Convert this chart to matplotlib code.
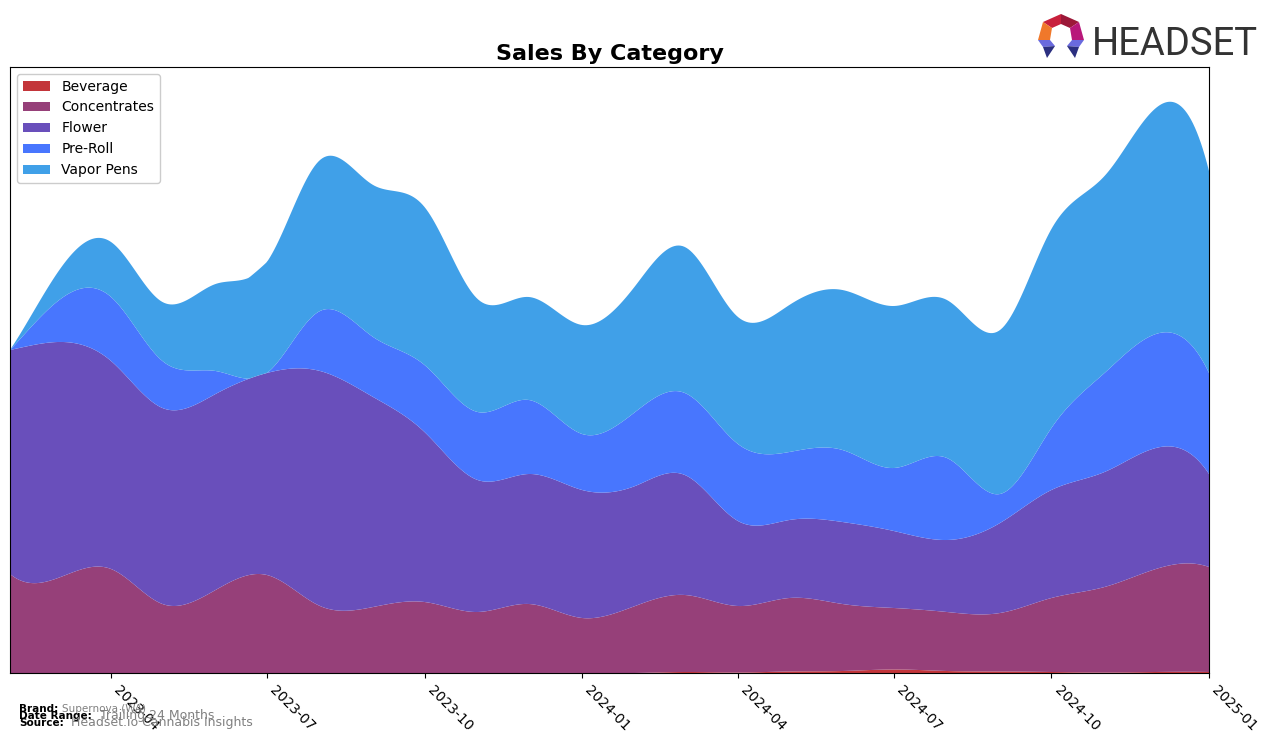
import numpy as np
import matplotlib
matplotlib.use("Agg")
import matplotlib.pyplot as plt
import matplotlib.dates as mdates
from matplotlib.patches import Polygon
import datetime as dt

# ---------------- data (monthly, arbitrary units) ----------------
months = ["2023-02", "2023-03", "2023-04", "2023-05", "2023-06", "2023-07",
          "2023-08", "2023-09", "2023-10", "2023-11", "2023-12", "2024-01",
          "2024-02", "2024-03", "2024-04", "2024-05", "2024-06", "2024-07",
          "2024-08", "2024-09", "2024-10", "2024-11", "2024-12", "2025-01"]
beverage = [0, 0, 0, 0, 0, 0, 0, 0, 0, 0, 0, 0,
            0, 1, 0.5, 1.5, 2, 3.5, 2, 1.5, 1, 0.5, 1, 1]
concentrates = [99, 95, 104, 69, 83, 98, 67, 66, 71, 61, 69, 55,
                67, 77, 66.5, 73.5, 67, 61.5, 59, 58.5, 74, 85.5, 103, 105]
flower = [224, 236, 208, 196, 196, 202, 235, 210, 170, 132, 130, 128,
          120, 120, 85, 78, 82, 77, 72, 90, 108, 115, 121, 93]
pre_roll = [0, 41, 64, 47, 23, 0, 60, 60, 67, 68, 74, 56,
            74, 82, 77, 68, 72, 63, 82, 29, 62, 99, 114, 101]
vapor_pens = [0, 29, 55, 59, 87, 111, 151, 152, 158, 113, 103, 109,
              126, 146, 127, 147, 160, 162, 158, 164, 199, 197, 226, 202]

categories = ["Beverage", "Concentrates", "Flower", "Pre-Roll", "Vapor Pens"]
colors = ["#c3353a", "#964079", "#694fbb", "#4876fe", "#40a0e8"]
tick_months = ["2023-04", "2023-07", "2023-10", "2024-01",
               "2024-04", "2024-07", "2024-10", "2025-01"]


def spline(x, y, xs):
    """Not-a-knot cubic spline evaluated at xs (for smooth rendering)."""
    x = np.asarray(x, float)
    y = np.asarray(y, float)
    n = len(x)
    h = np.diff(x)
    A = np.zeros((n, n))
    r = np.zeros(n)
    A[0, 0], A[0, 1], A[0, 2] = h[1], -(h[0] + h[1]), h[0]
    A[-1, -3], A[-1, -2], A[-1, -1] = h[-1], -(h[-2] + h[-1]), h[-2]
    for i in range(1, n - 1):
        A[i, i - 1] = h[i - 1]
        A[i, i] = 2 * (h[i - 1] + h[i])
        A[i, i + 1] = h[i]
        r[i] = 6 * ((y[i + 1] - y[i]) / h[i] - (y[i] - y[i - 1]) / h[i - 1])
    M = np.linalg.solve(A, r)
    idx = np.clip(np.searchsorted(x, xs) - 1, 0, n - 2)
    x0, x1 = x[idx], x[idx + 1]
    hh = x1 - x0
    s = (M[idx] * (x1 - xs) ** 3 / (6 * hh) + M[idx + 1] * (xs - x0) ** 3 / (6 * hh)
         + (y[idx] / hh - M[idx] * hh / 6) * (x1 - xs)
         + (y[idx + 1] / hh - M[idx + 1] * hh / 6) * (xs - x0))
    return s


xd = np.array([mdates.date2num(dt.datetime.strptime(m, "%Y-%m")) for m in months])
xs = np.linspace(xd[0], xd[-1], 600)
series = [beverage, concentrates, flower, pre_roll, vapor_pens]
smooth = [np.clip(spline(xd, s, xs), 0, None) for s in series]

W, H = 1276, 743
fig = plt.figure(figsize=(W / 100, H / 100), dpi=100)
ax = fig.add_axes([10 / W, 1 - 673 / H, (1209 - 10) / W, (673 - 67) / H])

ax.stackplot(xs, *smooth, colors=colors, labels=categories)
ax.set_xlim(xd[0], xd[-1])
ax.set_ylim(0, 606)
ax.set_yticks([])
ticks = [mdates.date2num(dt.datetime.strptime(m, "%Y-%m")) for m in tick_months]
ax.set_xticks(ticks)
ax.set_xticklabels(tick_months, rotation=-45, ha="left", fontsize=10)
for sp in ax.spines.values():
    sp.set_color("black")

ax.legend(loc="upper left", fontsize=10, framealpha=1, edgecolor="#cccccc")
ax.set_title("Sales By Category", fontsize=16, fontweight="bold", pad=5)

# footer
fig.text(19 / W, 1 - 712 / H, "Brand:", fontsize=7.5, fontweight="bold")
fig.text(62 / W, 1 - 712 / H, "Supernova (WA)", fontsize=7.5, color="gray")
fig.text(19 / W, 1 - 719 / H, "Date Range:", fontsize=7.5, fontweight="bold")
fig.text(100 / W, 1 - 719 / H, "Trailing 24 Months", fontsize=9, color="gray")
fig.text(19 / W, 1 - 726 / H, "Source:", fontsize=7.5, fontweight="bold")
fig.text(71 / W, 1 - 726 / H, "Headset.io Cannabis Insights", fontsize=9, color="gray")

# logo
fig.text(1092 / W, 1 - 55 / H, "HEADSET", fontsize=27.5, color="#333333",
         family=["Roboto", "DejaVu Sans"])


def P(pts):
    return [(px / W, 1 - py / H) for px, py in pts]


logo_parts = [
    ([(1061, 14), (1043, 22), (1052, 28), (1061, 24)], "#c8203c"),
    ([(1061, 14), (1079, 22), (1070, 28), (1061, 24)], "#9c1838"),
    ([(1043, 22), (1038, 40), (1050, 40), (1052, 28)], "#f0782a"),
    ([(1079, 22), (1084, 40), (1072, 40), (1070, 28)], "#b8177a"),
    ([(1038, 40), (1050, 40), (1055, 46), (1043, 47)], "#6a6ade"),
    ([(1043, 47), (1055, 46), (1047, 58)], "#2b2f80"),
    ([(1084, 40), (1072, 40), (1067, 46), (1079, 47)], "#6a6ade"),
    ([(1079, 47), (1067, 46), (1075, 58)], "#2b2f80"),
]
for pts, c in logo_parts:
    fig.patches.append(Polygon(P(pts), closed=True, facecolor=c, edgecolor="none",
                               transform=fig.transFigure, figure=fig))

fig.savefig("out.png", dpi=100)
